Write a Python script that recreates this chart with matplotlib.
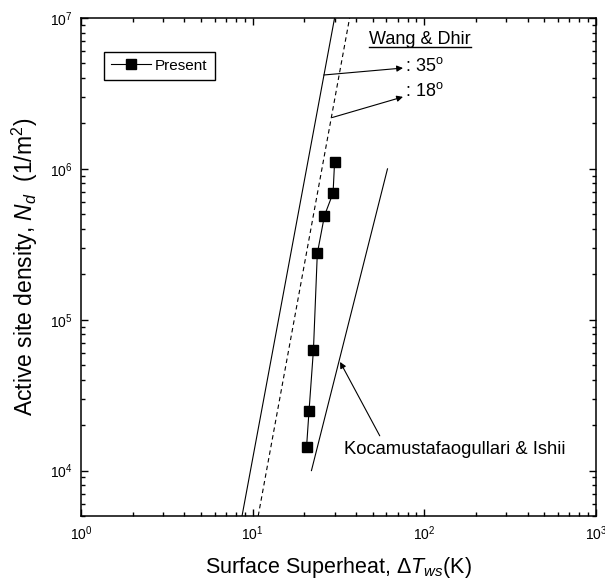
import matplotlib
matplotlib.use("Agg")
import matplotlib.pyplot as plt
import numpy as np

plt.rcParams['font.family'] = ['Liberation Sans', 'DejaVu Sans']
plt.rcParams['mathtext.fontset'] = 'custom'
plt.rcParams['mathtext.rm'] = 'Liberation Sans'
plt.rcParams['mathtext.it'] = 'Liberation Sans:italic'
plt.rcParams['mathtext.default'] = 'regular'

# Present data
present_dT = [20.6, 21.3, 22.6, 23.8, 26.2, 29.4, 30.0]
present_N = [1.43e4, 2.49e4, 6.34e4, 2.75e5, 4.9e5, 6.92e5, 1.107e6]

# Wang & Dhir correlation lines (end points)
wd35_dT = [8.67, 30.0]
wd35_N = [5e3, 1e7]
wd18_dT = [10.77, 36.7]
wd18_N = [5e3, 1e7]

# Kocamustafaogullari & Ishii line
ki_dT = [22.0, 61.0]
ki_N = [1e4, 1e6]

xlim = (1, 1000)
ylim = (5e3, 1e7)

fig = plt.figure(figsize=(6.05, 5.86), dpi=100)
ax = fig.add_axes([81/605, 70/586, 515/605, 498/586])

ax.plot(wd35_dT, wd35_N, color='k', lw=0.8)
ax.plot(wd18_dT, wd18_N, color='k', lw=0.8, linestyle=(0, (4, 3)))
ax.plot(ki_dT, ki_N, color='k', lw=0.8)
ax.plot(present_dT, present_N, color='k', lw=0.8, marker='s', markersize=7.5,
        markerfacecolor='k', markeredgecolor='k', label='Present')

ax.set_xscale('log')
ax.set_yscale('log')
ax.set_xlim(*xlim)
ax.set_ylim(*ylim)

ax.tick_params(which='both', direction='in', top=True, right=True, width=1.0, labelsize=10)
ax.tick_params(which='major', length=5)
ax.tick_params(which='minor', length=3)
ax.tick_params(axis='x', pad=6)
ax.tick_params(axis='y', pad=6)
for s in ax.spines.values():
    s.set_linewidth(1.1)

ax.set_xlabel(r'Surface Superheat, $\Delta$$\it{T}_{\it{ws}}$(K)', fontsize=15.5, labelpad=9)
ax.set_ylabel(r'Active site density, $\it{N}_{\it{d}}$  (1/m$^2$)', fontsize=16.5, labelpad=7)

leg = ax.legend(loc='upper left', bbox_to_anchor=(0.0447, 0.932), borderaxespad=0,
                fancybox=False, edgecolor='k', framealpha=1, fontsize=11,
                handlelength=2.6, borderpad=0.45, handletextpad=0.3)
leg.get_frame().set_linewidth(1.0)

# Annotations
wd_txt = ax.text(47.6, 7.23e6, 'Wang & Dhir', fontsize=13, va='center', ha='left')
ax.text(77.1, 4.8e6, ': 35$^{o}$', fontsize=13, va='center', ha='left')
ax.text(77.1, 3.27e6, ': 18$^{o}$', fontsize=13, va='center', ha='left')
ax.text(34.0, 1.38e4, 'Kocamustafaogullari & Ishii', fontsize=13.2, va='center', ha='left')

arrow = dict(arrowstyle='-|>', lw=0.8, color='k', mutation_scale=9, shrinkA=0, shrinkB=0)
ax.annotate('', xy=(75.1, 4.66e6), xytext=(25.97, 4.19e6), arrowprops=arrow)
ax.annotate('', xy=(75.1, 3.0e6), xytext=(29.1, 2.19e6), arrowprops=arrow)
ax.annotate('', xy=(32.3, 5.25e4), xytext=(55.0, 1.70e4), arrowprops=arrow)

# underline for "Wang & Dhir"
fig.canvas.draw()
bb = wd_txt.get_window_extent()
inv = fig.transFigure.inverted()
(x0, y0) = inv.transform((bb.x0, bb.y0))
(x1, _) = inv.transform((bb.x1, bb.y0))
fig.add_artist(plt.Line2D([x0, x1], [y0 + 0.002, y0 + 0.002], transform=fig.transFigure,
                          color='k', lw=1.0))

fig.savefig('out.png', dpi=100)
